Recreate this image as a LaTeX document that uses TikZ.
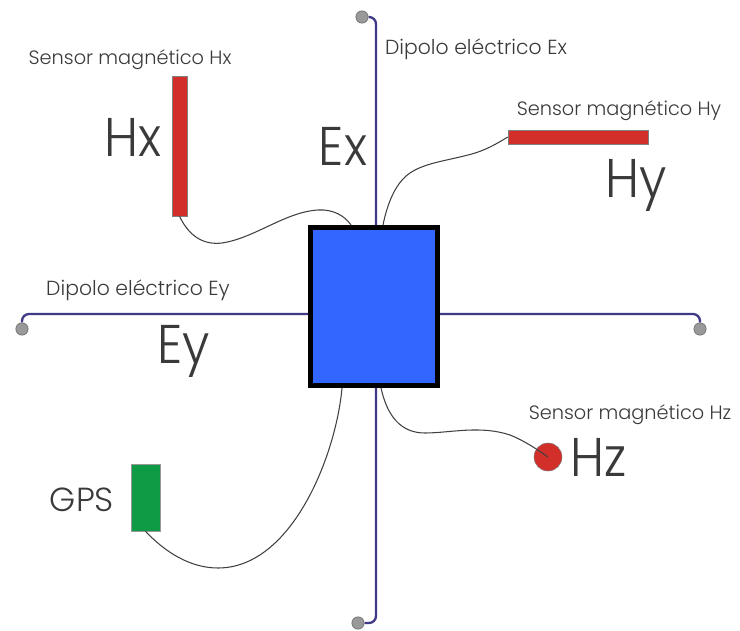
\documentclass[tikz,border=0pt]{standalone}
\usepackage{fontspec}
\setmainfont{Poppins}
\newfontfamily\lightfont{Poppins Light}
\usetikzlibrary{calc}

\definecolor{dipolecol}{HTML}{3F3A85}
\definecolor{boxblue}{HTML}{3366FF}
\definecolor{sensorred}{HTML}{D32F2A}
\definecolor{gpsgreen}{HTML}{0F9A45}
\definecolor{textgray}{HTML}{3A3A3A}

\tikzset{
    dipole/.style={draw=dipolecol,line width=1.3pt,rounded corners=4pt},
    cable/.style={draw=black!75,line width=0.6pt},
    endpoint/.style={circle,draw=black!55,fill=gray!80,line width=0.4pt,minimum size=7pt,inner sep=0pt},
    sensor/.style={rectangle,draw=black!50,fill=sensorred,line width=0.3pt,inner sep=0pt},
    smalltext/.style={text=textgray,font=\lightfont\fontsize{11}{12}\selectfont,inner sep=0pt,anchor=base},
    dipoletext/.style={text=textgray,font=\lightfont\fontsize{11.6}{13}\selectfont,inner sep=0pt,anchor=base},
    bigtext/.style={text=textgray,font=\lightfont\fontsize{31}{34}\selectfont,inner sep=0pt,anchor=base,xscale=0.92}
}

\begin{document}
\begin{tikzpicture}[x=0.02cm,y=-0.02cm]
\useasboundingbox (0,0) rectangle (740,631);

% data logger
\node[rectangle,draw=black,fill=boxblue,line width=2.9pt,minimum width=127*0.02cm,minimum height=158*0.02cm,inner sep=0pt] (logger) at (374,306.5) {};

% dipole ends
\foreach \name/\x/\y in {dotN/362/17,dotS/358/623,dotW/22/329,dotE/700/329}
{
    \node[endpoint] (\name) at (\x,\y) {};
}

% dipoles
\coordinate (exit N) at (376,225);
\coordinate (exit S) at (376,388);
\coordinate (exit W) at (308,314);
\coordinate (exit E) at (440,314);
\draw[dipole] (exit N) |- (dotN.east);
\draw[dipole] (exit S) |- (dotS.east);
\draw[dipole] (exit W) -| (dotW.north);
\draw[dipole] (exit E) -| (dotE.north);

% sensors
\node[sensor,minimum width=15*0.02cm,minimum height=140*0.02cm] (hx) at (179.5,146) {};
\node[sensor,minimum width=140*0.02cm,minimum height=14*0.02cm] (hy) at (578,137) {};
\node[sensor,circle,minimum size=28*0.02cm] (hz) at (548,457) {};
\node[rectangle,draw=black!40,fill=gpsgreen,line width=0.3pt,inner sep=0pt,minimum width=29*0.02cm,minimum height=67*0.02cm] (gps) at (145.5,497.5) {};

% cables
\coordinate (cable x) at (351,225);
\coordinate (cable y) at (383,225);
\coordinate (cable z) at (381,388);
\coordinate (cable g) at (342,388);
\draw[cable] (hx.south) .. controls (190,238) and (205,245) .. (222,243) .. controls (255,238) and (285,212) .. (318,210) .. controls (333,209) and (345,216) .. (cable x);
\draw[cable] (hy.west) .. controls (490,148) and (480,152) .. (468,155) .. controls (445,161) and (425,163) .. (410,173) .. controls (395,183) and (387,205) .. (cable y);
\draw[cable] (cable g) .. controls (336,455) and (292,568) .. (218,568) .. controls (190,568) and (165,552) .. (gps.south);
\draw[cable] (cable z) .. controls (387,415) and (400,433) .. (425,433) .. controls (450,433) and (480,425) .. (510,435) .. controls (525,441) and (538,450) .. (hz.center);

% labels
\node[smalltext] (labelhx) at (130,65) {Sensor magnético Hx};
\node[smalltext] (labelhy) at (619,116) {Sensor magnético Hy};
\node[smalltext] (labelhz) at (630,419) {Sensor magnético Hz};
\node[dipoletext] (labelex) at (476,55) {Dipolo eléctrico Ex};
\node[dipoletext] (labeley) at (138,296) {Dipolo eléctrico Ey};
\node[bigtext] (labelbighx) at (133,157) {Hx};
\node[bigtext] (labelbighy) at (636,198) {Hy};
\node[bigtext] (labelbighz) at (599,476) {Hz};
\node[bigtext] (labelbigex) at (343,166) {Ex};
\node[bigtext] (labelbigey) at (184,363) {Ey};
\node[text=textgray,font=\lightfont\fontsize{19}{21}\selectfont,inner sep=0pt,anchor=base] (labelgps) at (82,511) {GPS};

\end{tikzpicture}
\end{document}
